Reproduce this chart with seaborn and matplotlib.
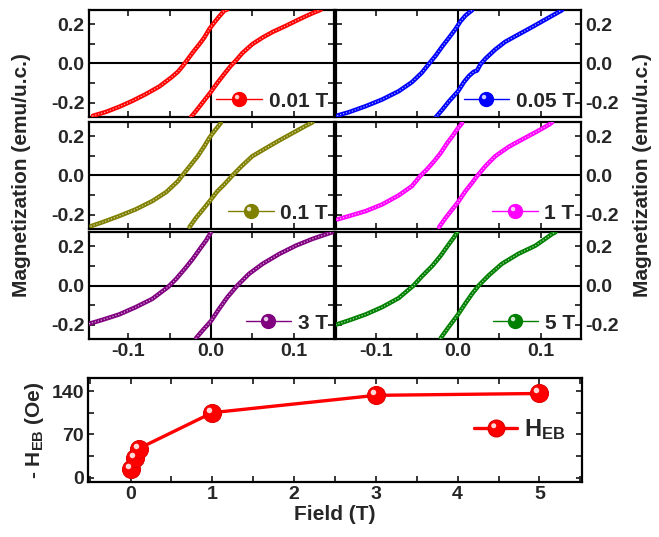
import numpy as np
import pandas as pd
import matplotlib
matplotlib.use('Agg')
import matplotlib.pyplot as plt
import seaborn as sns
from matplotlib.lines import Line2D
from matplotlib.markers import MarkerStyle
from matplotlib.transforms import Affine2D
from matplotlib.legend_handler import HandlerTuple
from matplotlib.ticker import MultipleLocator, FormatStrFormatter
import matplotlib.colors as mcolors

sns.set_theme(style='ticks')
plt.rcParams['font.family'] = ['Liberation Sans', 'DejaVu Sans']
plt.rcParams['font.weight'] = 'bold'
plt.rcParams['axes.labelweight'] = 'bold'
plt.rcParams['axes.unicode_minus'] = False
plt.rcParams['mathtext.fontset'] = 'custom'
plt.rcParams['mathtext.rm'] = 'Liberation Sans:bold'
plt.rcParams['mathtext.it'] = 'Liberation Sans:bold'
plt.rcParams['mathtext.bf'] = 'Liberation Sans:bold'

# ---------------- data: hysteresis branches (H in T, M in emu/u.c.) ----------------
h_001_dn = [-0.143, -0.127, -0.111, -0.095, -0.079, -0.0625, -0.048, -0.040, -0.034, -0.028, -0.022, -0.014, -0.008, -0.002, 0.004, 0.010, 0.016, 0.020]
m_001_dn = [-0.266, -0.246, -0.220, -0.190, -0.156, -0.117, -0.071, -0.042, -0.012, 0.022, 0.056, 0.098, 0.132, 0.175, 0.208, 0.239, 0.268, 0.275]
h_001_up = [-0.024, -0.018, -0.010, 0.000, 0.008, 0.016, 0.024, 0.030, 0.038, 0.050, 0.0625, 0.075, 0.091, 0.107, 0.123, 0.133]
m_001_up = [-0.271, -0.241, -0.198, -0.144, -0.097, -0.054, -0.012, 0.014, 0.053, 0.098, 0.132, 0.161, 0.192, 0.225, 0.256, 0.273]

h_005_dn = [-0.146, -0.132, -0.112, -0.092, -0.072, -0.056, -0.044, -0.035, -0.027, -0.019, -0.011, -0.003, 0.003, 0.009, 0.017]
m_005_dn = [-0.264, -0.247, -0.217, -0.183, -0.141, -0.095, -0.047, 0.000, 0.041, 0.088, 0.131, 0.176, 0.215, 0.244, 0.271]
h_005_up = [-0.027, -0.019, -0.011, 0.000, 0.007, 0.013, 0.019, 0.023, 0.027, 0.033, 0.045, 0.057, 0.073, 0.090, 0.106, 0.126]
m_005_up = [-0.273, -0.234, -0.192, -0.141, -0.095, -0.064, -0.042, -0.036, -0.005, 0.024, 0.071, 0.110, 0.147, 0.186, 0.224, 0.271]

h_01_dn = [-0.145, -0.131, -0.111, -0.091, -0.071, -0.054, -0.040, -0.032, -0.024, -0.016, -0.008, -0.002, 0.004, 0.012]
m_01_dn = [-0.257, -0.237, -0.206, -0.172, -0.130, -0.084, -0.029, 0.014, 0.056, 0.098, 0.149, 0.191, 0.225, 0.267]
h_01_up = [-0.026, -0.018, -0.008, 0.000, 0.008, 0.016, 0.026, 0.038, 0.050, 0.067, 0.083, 0.099, 0.115, 0.123]
m_01_up = [-0.262, -0.215, -0.164, -0.122, -0.079, -0.046, 0.000, 0.051, 0.098, 0.140, 0.179, 0.216, 0.253, 0.270]

h_1_dn = [-0.146, -0.132, -0.112, -0.092, -0.072, -0.056, -0.046, -0.038, -0.029, -0.021, -0.013, -0.007, -0.001, 0.005]
m_1_dn = [-0.223, -0.206, -0.181, -0.147, -0.101, -0.054, -0.003, 0.030, 0.073, 0.115, 0.166, 0.199, 0.236, 0.267]
h_1_up = [-0.023, -0.015, -0.007, 0.000, 0.009, 0.017, 0.023, 0.033, 0.045, 0.061, 0.077, 0.094, 0.110, 0.114]
m_1_up = [-0.262, -0.215, -0.172, -0.135, -0.079, -0.037, -0.003, 0.047, 0.098, 0.145, 0.182, 0.220, 0.258, 0.270]

h_3_dn = [-0.147, -0.131, -0.111, -0.091, -0.071, -0.052, -0.042, -0.030, -0.022, -0.012, -0.006, 0.000]
m_3_dn = [-0.194, -0.174, -0.147, -0.110, -0.068, -0.008, 0.034, 0.093, 0.135, 0.194, 0.228, 0.270]
h_3_up = [-0.018, -0.010, 0.000, 0.010, 0.020, 0.032, 0.046, 0.0625, 0.083, 0.103, 0.123, 0.147]
m_3_up = [-0.267, -0.228, -0.181, -0.118, -0.059, 0.000, 0.059, 0.110, 0.161, 0.203, 0.237, 0.271]

h_5_dn = [-0.148, -0.132, -0.112, -0.092, -0.072, -0.054, -0.044, -0.031, -0.021, -0.011, -0.005, -0.001]
m_5_dn = [-0.199, -0.177, -0.147, -0.110, -0.064, 0.000, 0.046, 0.101, 0.152, 0.211, 0.245, 0.271]
h_5_up = [-0.021, -0.013, 0.000, 0.009, 0.017, 0.025, 0.037, 0.053, 0.073, 0.094, 0.114, 0.118]
m_5_up = [-0.267, -0.220, -0.147, -0.090, -0.042, 0.000, 0.051, 0.110, 0.161, 0.203, 0.262, 0.271]

panel_labels = ['0.01 T', '0.05 T', '0.1 T', '1 T', '3 T', '5 T']
panel_colors = ['#FF0000', '#0000FF', '#808000', '#FF00FF', '#800080', '#008000']

# exchange-bias field vs cooling field
cool_field = [0.01, 0.05, 0.1, 1, 3, 5]
heb_vals = [14, 32, 47, 105, 133, 136]

# ---------------- figure ----------------
W, H = 659, 537
fig = plt.figure(figsize=(W / 100, H / 100), dpi=100)

def fr(x0, y0, x1, y1):
    return [x0 / W, 1 - y1 / H, (x1 - x0) / W, (y1 - y0) / H]

col_x = [(88.7, 334), (336, 581)]
row_y = [(10, 117), (122, 229), (232, 339)]

loops = [
    [(h_001_dn, m_001_dn), (h_001_up, m_001_up)],
    [(h_005_dn, m_005_dn), (h_005_up, m_005_up)],
    [(h_01_dn, m_01_dn), (h_01_up, m_01_up)],
    [(h_1_dn, m_1_dn), (h_1_up, m_1_up)],
    [(h_3_dn, m_3_dn), (h_3_up, m_3_up)],
    [(h_5_dn, m_5_dn), (h_5_up, m_5_up)],
]

def lighten(color, f):
    return mcolors.to_hex((1 - f) * np.array(mcolors.to_rgb(color)) + f)

# small off-centre highlight to give markers a shaded "sphere" look
hi_marker = MarkerStyle('o', transform=Affine2D().translate(-0.55, 0.55))

TICKFS = 14
for i in range(6):
    r, c = divmod(i, 2)
    ax = fig.add_axes(fr(col_x[c][0], row_y[r][0], col_x[c][1], row_y[r][1]))
    color = panel_colors[i]
    light = lighten(color, 0.65)
    ax.axhline(0, color='black', lw=1.5, zorder=1)
    ax.axvline(0, color='black', lw=1.5, zorder=1)
    for hx, my in loops[i]:
        df = pd.DataFrame({'H': hx, 'M': my})
        sns.lineplot(data=df, x='H', y='M', sort=False, ax=ax, color=color,
                     lw=3.2, zorder=3)
        # bead-like highlights along the chain of measurement points
        ax.plot(hx, my, color=light, lw=1.1, linestyle=(0, (0.01, 2.0)),
                dash_capstyle='round', zorder=4)
    ax.set_xlim(-0.148, 0.149)
    ax.set_ylim(-0.272, 0.272)
    ax.set_xlabel('')
    ax.set_ylabel('')
    ax.xaxis.set_major_locator(MultipleLocator(0.1))
    ax.xaxis.set_minor_locator(MultipleLocator(0.05))
    ax.yaxis.set_major_locator(MultipleLocator(0.2))
    ax.yaxis.set_minor_locator(MultipleLocator(0.1))
    ax.xaxis.set_major_formatter(FormatStrFormatter('%.1f'))
    ax.yaxis.set_major_formatter(FormatStrFormatter('%.1f'))
    ax.tick_params(which='both', direction='in', top=True, right=True, bottom=True, left=True,
                   length=4, width=1.3, labelsize=TICKFS, pad=3,
                   labelbottom=(r == 2), labelleft=(c == 0), labelright=(c == 1))
    for s in ax.spines.values():
        s.set_linewidth(1.6)
        s.set_color('black')
    h_main = Line2D([], [], color=color, lw=1.0, marker='o', markersize=10,
                    markerfacecolor=color, markeredgecolor=color)
    h_hi = Line2D([], [], color='none', lw=0, marker=hi_marker, markersize=3.2,
                  markerfacecolor=lighten(color, 0.8), markeredgecolor='none')
    ax.legend(handles=[(h_main, h_hi)], labels=[panel_labels[i]], loc='lower right', frameon=False,
              handler_map={tuple: HandlerTuple(ndivide=1)},
              handlelength=2.2, handletextpad=0.3, borderaxespad=0.1,
              borderpad=0.2, prop={'weight': 'bold', 'size': 15})

fig.text(22 / W, 1 - 175 / H, 'Magnetization (emu/u.c.)', rotation=90, ha='center', va='center',
         fontsize=15, fontweight='bold')
fig.text(643 / W, 1 - 175 / H, 'Magnetization (emu/u.c.)', rotation=90, ha='center', va='center',
         fontsize=15, fontweight='bold')

# bottom panel
axb = fig.add_axes(fr(88, 378, 582, 482))
dfb = pd.DataFrame({'field': cool_field, 'heb': heb_vals})
sns.lineplot(data=dfb, x='field', y='heb', ax=axb, color='#FF0000', lw=2.4, marker='o',
             markersize=13, markerfacecolor='#FF0000', markeredgecolor='#E00000', zorder=3)
axb.plot(cool_field, heb_vals, linestyle='none', marker=hi_marker, ms=4, color='#FFD8D8',
         mec='none', zorder=4)
axb.set_xlim(-0.52, 5.52)
axb.set_ylim(-7, 161)
axb.xaxis.set_major_locator(MultipleLocator(1))
axb.xaxis.set_minor_locator(MultipleLocator(0.5))
axb.yaxis.set_major_locator(MultipleLocator(70))
axb.yaxis.set_minor_locator(MultipleLocator(35))
axb.tick_params(which='both', direction='in', top=True, right=True, length=4, width=1.3,
                labelsize=TICKFS, pad=3)
for s in axb.spines.values():
    s.set_linewidth(1.6)
    s.set_color('black')
axb.set_xlabel('Field (T)', fontsize=15, fontweight='bold', labelpad=1)
axb.set_ylabel(r'- H$_{\rm EB}$ (Oe)', fontsize=15, fontweight='bold', labelpad=4)
hb = Line2D([], [], color='#FF0000', lw=2.4, marker='o', markersize=12,
            markerfacecolor='#FF0000', markeredgecolor='#E00000')
hbh = Line2D([], [], color='none', lw=0, marker=hi_marker, markersize=3.6,
             markerfacecolor='#FFD8D8', markeredgecolor='none')
axb.legend(handles=[(hb, hbh)], labels=[r'H$_{\rm EB}$'], loc='center right', frameon=False,
           handler_map={tuple: HandlerTuple(ndivide=1)},
           handlelength=1.8, handletextpad=0.3, borderaxespad=0.3,
           prop={'weight': 'bold', 'size': 17})

fig.savefig('out.png', dpi=100)
